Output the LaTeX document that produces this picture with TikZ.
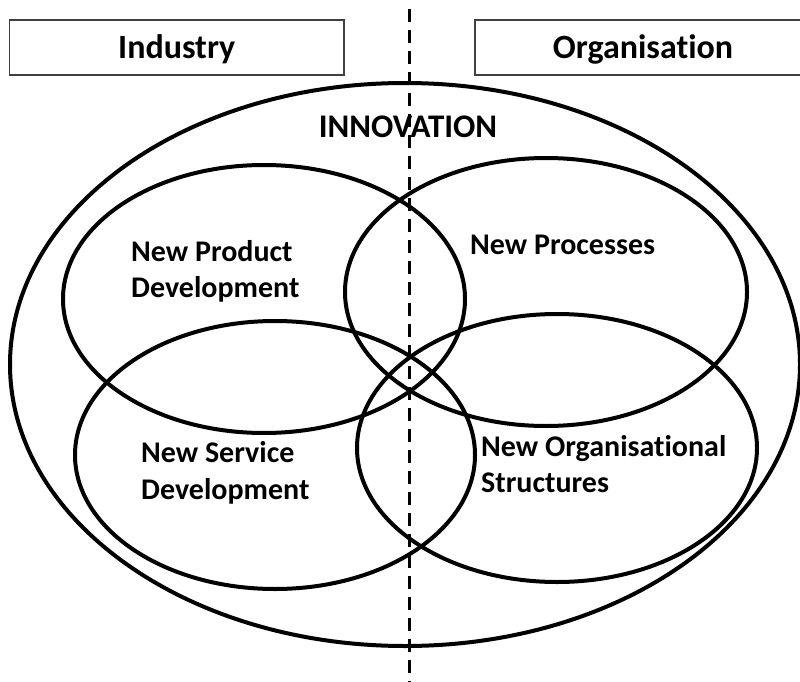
\documentclass[tikz,border=0pt]{standalone}
\usepackage{fontspec}
\setmainfont{Carlito}[Ligatures={NoCommon,NoContextual}]
\begin{document}
\begin{tikzpicture}[x=1pt,y=-1pt,
  ring/.style={draw=black, line width=4pt},
  topbox/.style={draw=black!75, line width=1.5pt, minimum height=55pt, inner sep=0pt,
    font=\fontsize{34}{40}\selectfont\bfseries, text height=21.5pt, text depth=0pt},
  title/.style={inner sep=0pt, anchor=base, font=\fontsize{33}{40}\selectfont\bfseries},
  lbl/.style={inner sep=0pt, anchor=base west, font=\fontsize{30}{36}\selectfont\bfseries},
  divider/.style={line width=3pt, dash pattern=on 13pt off 8pt}]
\useasboundingbox (0,0) rectangle (800,682);
% top boxes
\node[topbox, minimum width=334.5pt] (industry) at (176.75,47.5) {Industry};
\node[topbox, minimum width=336pt] (organisation) at (643,47.5) {Organisation};
% outer ellipse
\draw[ring] (405,364.5) ellipse [x radius=395pt, y radius=281.5pt];
% four ellipses
\draw[ring] (264,299) ellipse [x radius=201pt, y radius=134pt];
\draw[ring] (546,292) ellipse [x radius=201pt, y radius=134pt];
\draw[ring] (275,455) ellipse [x radius=200pt, y radius=134pt];
\draw[ring] (557,448) ellipse [x radius=200pt, y radius=134pt];
% divider
\coordinate (dtop) at (409,9);
\coordinate (dbot) at (409,682);
\draw[divider] (dtop) -- (dbot);
% labels
\node[title] (innovation) at (408,137) {INNOVATION};
\node[lbl] (npd1) at (131,261) {New Product};
\node[lbl] (npd2) at (131,297) {Development};
\node[lbl] (np) at (470,254) {New Processes};
\node[lbl] (nsd1) at (141,462) {New Service};
\node[lbl] (nsd2) at (141,499) {Development};
\node[lbl] (nos1) at (481,456) {New Organisational};
\node[lbl] (nos2) at (481,492) {Structures};
\end{tikzpicture}
\end{document}
